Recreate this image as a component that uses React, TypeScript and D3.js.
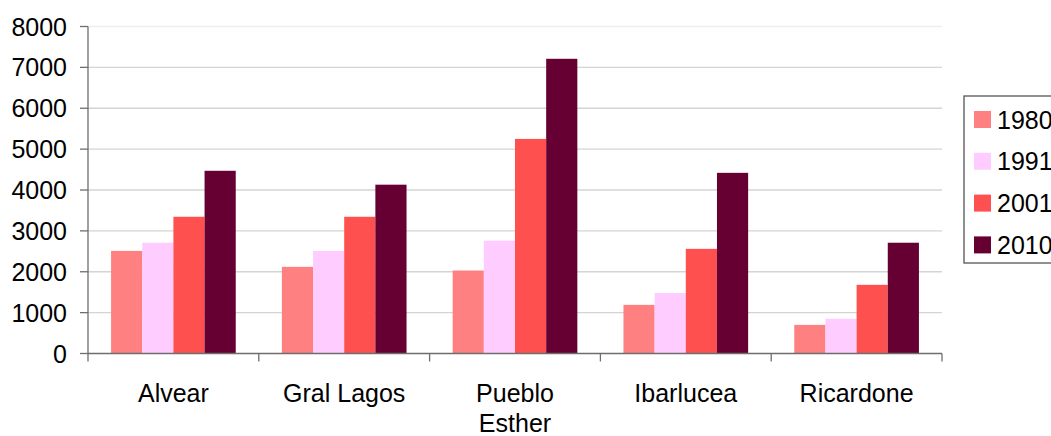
import * as d3 from "d3"

const categories = ["Alvear", "Gral Lagos", "Pueblo Esther", "Ibarlucea", "Ricardone"]
const seriesNames = ["1980", "1991", "2001", "2010"]
const values1980 = [2510, 2120, 2030, 1190, 700]
const values1991 = [2710, 2510, 2760, 1480, 850]
const values2001 = [3345, 3345, 5250, 2560, 1680]
const values2010 = [4470, 4130, 7210, 4420, 2710]
const yTicks = [0, 1000, 2000, 3000, 4000, 5000, 6000, 7000, 8000]
const colors = ["#FF8080", "#FFCCFF", "#FF5050", "#660033"]

const seriesValues = [values1980, values1991, values2001, values2010]

const W = 1051
const H = 436
const margin = { left: 88, right: 942, top: 26.5, bottom: 353.5 }
const font = "'Liberation Sans', Arial, sans-serif"
const fs = 25

export default function App() {
  const x0 = d3.scaleBand<string>().domain(categories).range([margin.left, margin.right]).padding(0)
  const x1 = d3
    .scaleBand<string>()
    .domain(seriesNames)
    .range([0, x0.bandwidth()])
    .paddingInner(0)
    .paddingOuter(0.74)
  const y = d3.scaleLinear().domain([0, 8000]).range([margin.bottom, margin.top])

  const boundaries = categories.map((c) => x0(c) ?? 0).concat([margin.right])

  return (
    <svg
      width={W}
      height={H}
      style={{ position: "absolute", left: 0, top: 0, background: "#fff" }}
      fontFamily={font}
    >
      {/* grid */}
      {yTicks
        .filter((t) => t > 0)
        .map((t) => (
          <line
            key={t}
            x1={margin.left}
            x2={margin.right}
            y1={y(t)}
            y2={y(t)}
            stroke={t === 8000 ? "#eeeeee" : "#d4d4d4"}
            strokeWidth={1.3}
          />
        ))}

      {/* bars */}
      {categories.map((c, ci) => (
        <g key={c} transform={`translate(${x0(c)},0)`}>
          {seriesNames.map((s, si) => {
            const v = seriesValues[si][ci]
            return (
              <rect
                key={s}
                x={x1(s)}
                y={y(v)}
                width={x1.bandwidth()}
                height={margin.bottom - y(v)}
                fill={colors[si]}
              />
            )
          })}
        </g>
      ))}

      {/* y axis */}
      <line x1={margin.left} x2={margin.left} y1={margin.top} y2={margin.bottom} stroke="#6e6e6e" strokeWidth={1.3} />
      {yTicks.map((t) => (
        <g key={t}>
          <line x1={margin.left - 8} x2={margin.left} y1={y(t)} y2={y(t)} stroke="#6e6e6e" strokeWidth={1.3} />
          <text x={67} y={y(t)} dy="0.36em" textAnchor="end" fontSize={fs} fill="#000">
            {t}
          </text>
        </g>
      ))}

      {/* x axis */}
      <line x1={margin.left} x2={margin.right} y1={margin.bottom} y2={margin.bottom} stroke="#6e6e6e" strokeWidth={1.3} />
      {boundaries.map((b, i) => (
        <line key={i} x1={b} x2={b} y1={margin.bottom} y2={margin.bottom + 8} stroke="#6e6e6e" strokeWidth={1.3} />
      ))}
      {categories.map((c) => {
        const cx = (x0(c) ?? 0) + x0.bandwidth() / 2
        const words = c === "Pueblo Esther" ? ["Pueblo", "Esther"] : [c]
        return (
          <text key={c} x={cx} y={402} textAnchor="middle" fontSize={fs} fill="#000">
            {words.map((w, i) => (
              <tspan key={i} x={cx} dy={i === 0 ? 0 : 30}>
                {w}
              </tspan>
            ))}
          </text>
        )
      })}

      {/* legend */}
      <rect x={964} y={96} width={120} height={167} fill="#fff" stroke="#555" strokeWidth={1.3} />
      {seriesNames.map((s, i) => (
        <g key={s} transform={`translate(974, ${111 + i * 41.8})`}>
          <rect x={0} y={0} width={17} height={17} fill={colors[i]} />
          <text x={23} y={8.5} dy="0.36em" fontSize={fs} fill="#000">
            {s}
          </text>
        </g>
      ))}
    </svg>
  )
}
